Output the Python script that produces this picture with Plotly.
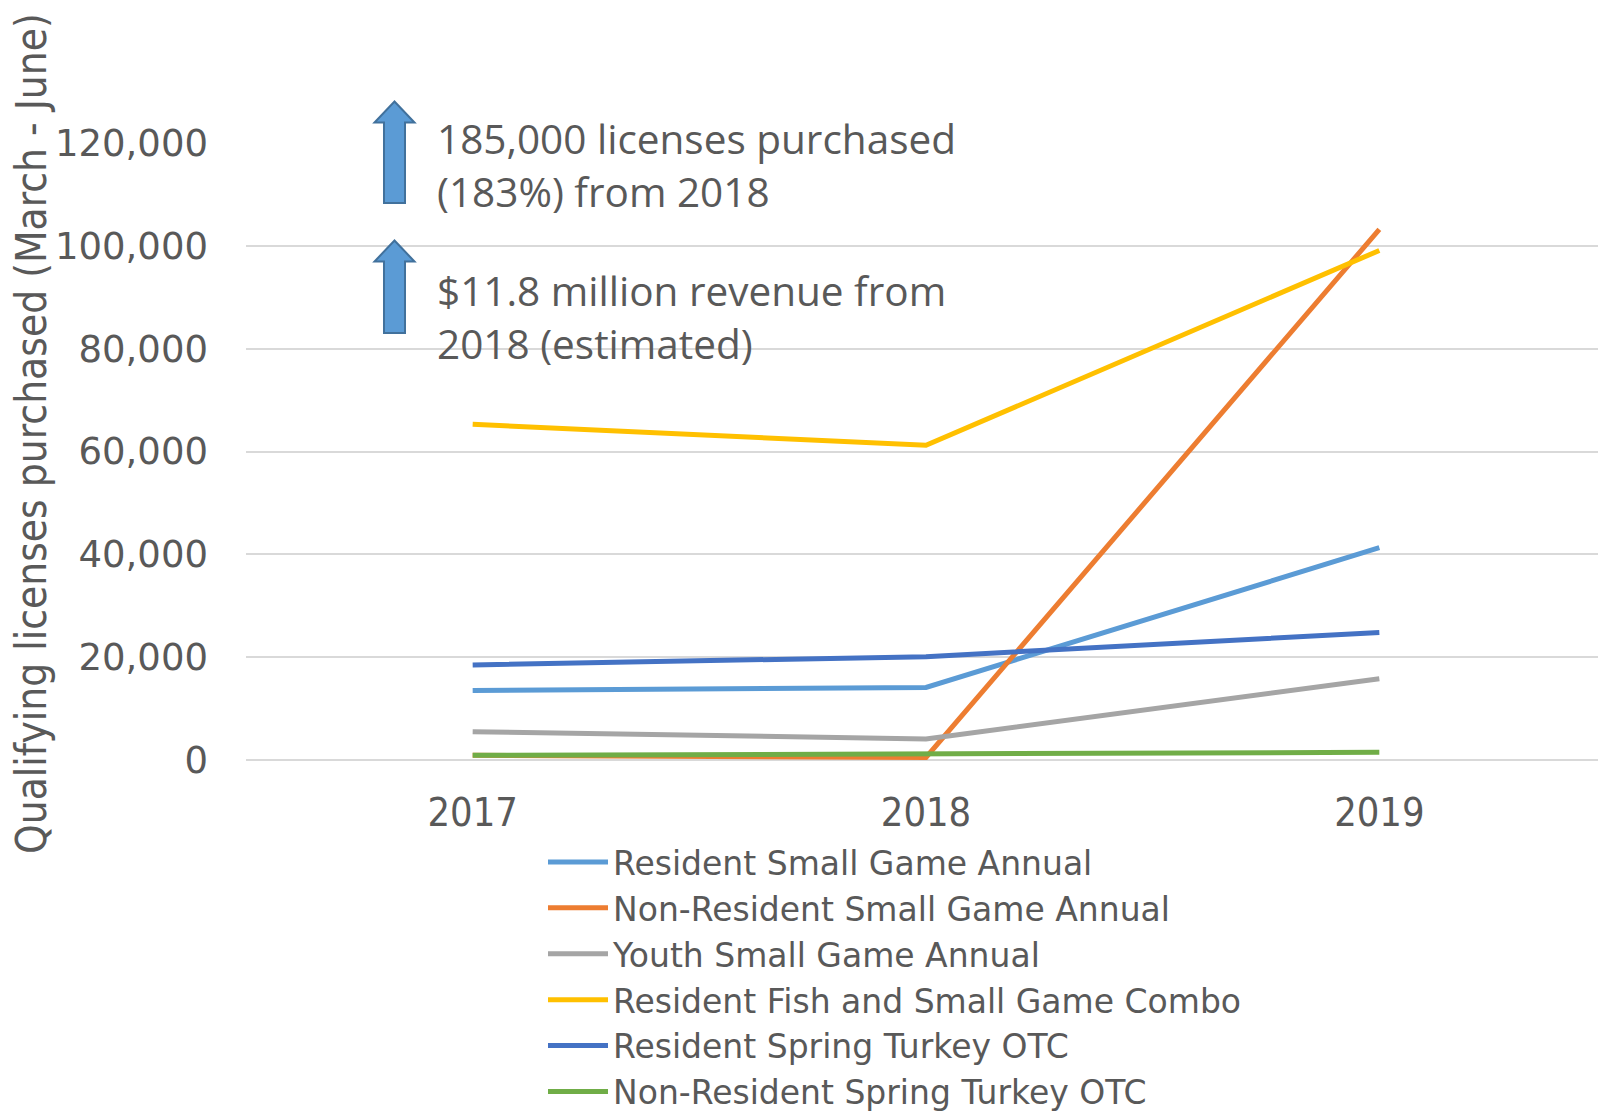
import plotly.graph_objects as go

years = ["2017", "2018", "2019"]

resident_small_game = [13500, 14100, 41300]
nonresident_small_game = [900, 500, 103200]
youth_small_game = [5500, 4100, 15800]
fish_small_game_combo = [65300, 61200, 99100]
resident_turkey = [18500, 20100, 24800]
nonresident_turkey = [900, 1200, 1500]

series_names = [
    "Resident Small Game Annual",
    "Non-Resident Small Game Annual",
    "Youth Small Game Annual",
    "Resident Fish and Small Game Combo",
    "Resident Spring Turkey OTC",
    "Non-Resident Spring Turkey OTC",
]
series_values = [
    resident_small_game,
    nonresident_small_game,
    youth_small_game,
    fish_small_game_combo,
    resident_turkey,
    nonresident_turkey,
]
colors = ["#5B9BD5", "#ED7D31", "#A5A5A5", "#FFC000", "#4472C4", "#70AD47"]

# the page body has an 8px margin, so the figure is drawn 8px in from the corner
PAGE_PAD = 8
W, H = 1606 - PAGE_PAD, 1112 - PAGE_PAD
LEFT, TOP, BOTTOM = 246, 143, 760          # plot area in page pixels
PW, PH = 1606 - LEFT, BOTTOM - TOP
TEXT = "#595959"
COND = "DejaVu Sans Condensed"


def px_x(p):
    return (p - LEFT) / PW


def px_y(p):
    return (BOTTOM - p) / PH


def up_arrow(top, bottom):
    neck = top + 21
    pts = [(394.5, top), (414.5, neck), (405, neck), (405, bottom),
           (384, bottom), (384, neck), (374.5, neck)]
    path = "M " + " L ".join(f"{px_x(x):.5f},{px_y(y):.5f}" for x, y in pts) + " Z"
    return dict(type="path", xref="paper", yref="paper", path=path,
                fillcolor="#5B9BD5", line=dict(color="#41719C", width=2),
                layer="above")


fig = go.Figure()
for name, vals, col in zip(series_names, series_values, colors):
    fig.add_trace(go.Scatter(
        x=years, y=vals, name=name, mode="lines",
        line=dict(color=col, width=5),
    ))

fig.update_layout(
    width=W, height=H,
    margin=dict(l=LEFT - PAGE_PAD, r=0, t=TOP - PAGE_PAD, b=H - (BOTTOM - PAGE_PAD),
                autoexpand=False),
    plot_bgcolor="white", paper_bgcolor="white",
    showlegend=True,
    legend=dict(
        x=px_x(543), y=px_y(834), xanchor="left", yanchor="top",
        itemwidth=60,
        font=dict(family="DejaVu Sans", size=33, color=TEXT),
        bgcolor="rgba(0,0,0,0)", traceorder="normal",
    ),
    shapes=[
        dict(type="rect", xref="paper", yref="paper",
             x0=px_x(412), x1=px_x(979), y0=px_y(112), y1=px_y(215),
             fillcolor="white", line=dict(width=0), layer="above"),
        up_arrow(101.5, 203),
        up_arrow(240.5, 333),
    ],
    annotations=[
        dict(text="185,000 licenses purchased<br>(183%) from 2018",
             xref="paper", yref="paper", x=px_x(435), y=px_y(165),
             xanchor="left", yanchor="middle", align="left", showarrow=False,
             font=dict(family="Open Sans", size=40.5, color=TEXT)),
        dict(text="$11.8 million revenue from<br>2018 (estimated)",
             xref="paper", yref="paper", x=px_x(435), y=px_y(317),
             xanchor="left", yanchor="middle", align="left", showarrow=False,
             font=dict(family="Open Sans", size=40.5, color=TEXT)),
        dict(text="Qualifying licenses purchased (March - June)",
             xref="paper", yref="paper", x=px_x(31), y=px_y(434),
             xanchor="center", yanchor="middle", textangle=-90, showarrow=False,
             font=dict(family=COND, size=42, color=TEXT)),
    ],
)

fig.update_xaxes(
    type="category", range=[-0.5, 2.5], showgrid=False, showline=False,
    zeroline=False, ticks="", ticklabelstandoff=25, automargin=False,
    tickfont=dict(family=COND, size=39.5, color=TEXT),
)
fig.update_yaxes(
    range=[0, 120000], dtick=20000, tickformat=",",
    showgrid=True, gridcolor="#D9D9D9", gridwidth=2,
    zeroline=True, zerolinecolor="#D9D9D9", zerolinewidth=2,
    showline=False, ticks="", ticklabelstandoff=37, automargin=False,
    tickfont=dict(family="DejaVu Sans", size=37, color=TEXT),
)

fig.write_html("out.html")
